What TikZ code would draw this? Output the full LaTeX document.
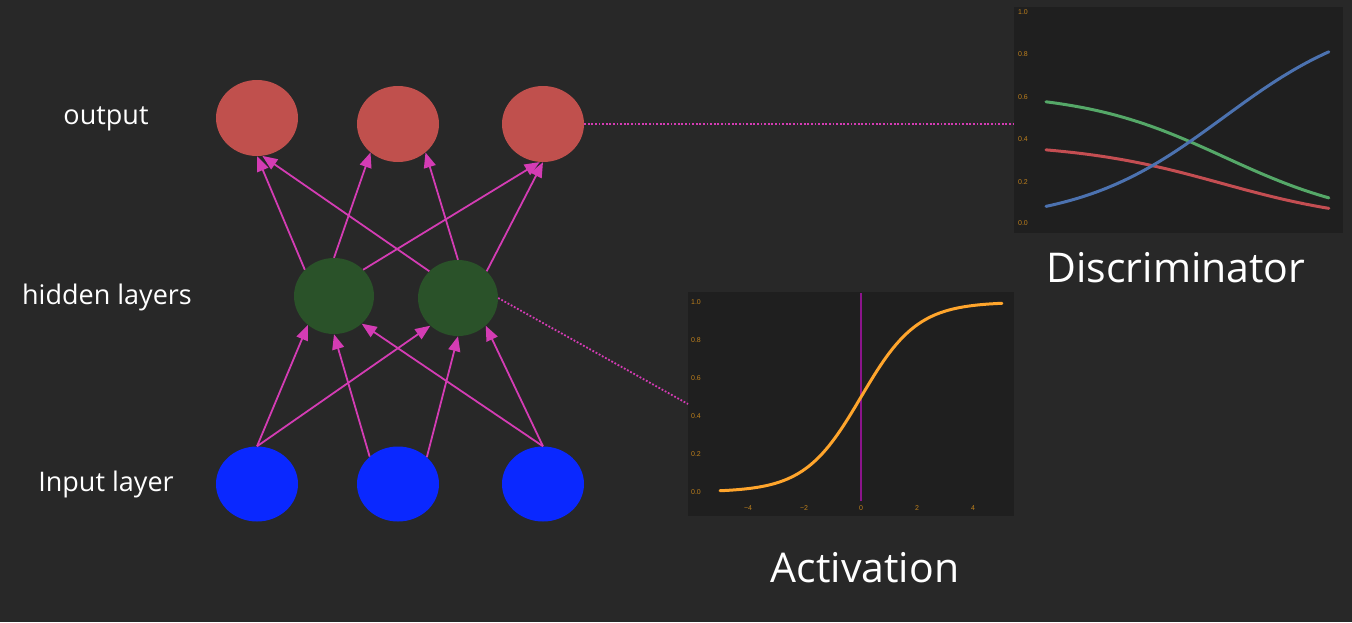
\documentclass[tikz,border=0pt]{standalone}
\usepackage{fontspec}
\setmainfont{Open Sans}
\newfontfamily\tickfont{Liberation Sans}
\usetikzlibrary{shapes.geometric,arrows.meta}
\definecolor{bg}{RGB}{40,40,40}
\definecolor{panel}{RGB}{31,31,31}
\definecolor{outc}{RGB}{192,80,77}
\definecolor{hidc}{RGB}{42,82,41}
\definecolor{inc}{RGB}{10,40,255}
\definecolor{link}{RGB}{212,60,180}
\definecolor{tick}{RGB}{190,128,28}
\definecolor{sbblue}{RGB}{76,114,176}
\definecolor{sbgreen}{RGB}{85,168,104}
\definecolor{sbred}{RGB}{196,78,82}
\definecolor{sigc}{RGB}{255,165,44}
\definecolor{vline}{RGB}{140,20,140}
\tikzset{
  neuron/.style={ellipse, minimum width=82pt, minimum height=76pt, inner sep=0pt},
  outn/.style={neuron, fill=outc},
  hidn/.style={neuron, fill=hidc, minimum width=80pt},
  inn/.style={neuron, fill=inc, minimum height=75pt},
  conn/.style={draw=link, line width=1.8pt, -{Triangle[length=15pt,width=12pt]}},
  dotl/.style={draw=link, line width=1.8pt, dash pattern=on 1.8pt off 1.8pt},
  lbl/.style={text=white, font=\fontsize{27}{30}\selectfont, anchor=base, inner sep=0pt},
  ttl/.style={text=white, font=\fontsize{41}{46}\selectfont, anchor=base, inner sep=0pt},
  tk/.style={text=tick, font=\fontsize{7}{8}\selectfont\tickfont, inner sep=0pt},
  panelbox/.style={fill=panel, draw=none}
}
\begin{document}
\begin{tikzpicture}[x=1pt,y=-1pt]
\useasboundingbox[fill=bg] (0,0) rectangle (1352,622);

% labels
\node[lbl] (lo) at (106,124) {output};
\node[lbl] (lh) at (107,304) {hidden layers};
\node[lbl] (li) at (106,491) {Input layer};

% neurons
\node[outn] (O1) at (257,118) {};
\node[outn] (O2) at (398,124) {};
\node[outn] (O3) at (543,124) {};
\node[hidn] (H1) at (334,296) {};
\node[hidn] (H2) at (458,298) {};
\node[inn] (I1) at (257,484) {};
\node[inn] (I2) at (398,484) {};
\node[inn] (I3) at (543,484) {};

% input -> hidden
\draw[conn] (I1.north) -- (H1.-132);
\draw[conn] (I1.north) -- (H2.-135);
\draw[conn] (I2.136) -- (H1.south);
\draw[conn] (I2.43) -- (H2.south);
\draw[conn] (I3.north) -- (H1.-45);
\draw[conn] (I3.north) -- (H2.-45);
% hidden -> output
\draw[conn] (H1.138) -- (O1.south);
\draw[conn] (H1.north) -- (O2.-134);
\draw[conn] (H1.42) -- (O3.-95);
\draw[conn] (H2.137) -- (O1.-82);
\draw[conn] (H2.north) -- (O2.-46);
\draw[conn] (H2.43) -- (O3.south);

% discriminator panel
\node[panelbox, minimum width=329pt, minimum height=226pt, inner sep=0pt] (D) at (1178.5,120) {};
\node[tk] (d10) at (1023,12) {1.0};
\node[tk] (d08) at (1023,54) {0.8};
\node[tk] (d06) at (1023,97) {0.6};
\node[tk] (d04) at (1023,139) {0.4};
\node[tk] (d02) at (1023,182) {0.2};
\node[tk] (d00) at (1023,223) {0.0};
\draw[sbgreen, line width=3pt, line cap=round] plot[domain=0:1,samples=80,smooth]
 ({1046+283*\x},{223-211*exp(-0.545-1.575*\x)/(exp(-2.53+2.33*\x)+exp(-0.545-1.575*\x)+exp(-1.05-1.61*\x))});
\draw[sbred, line width=3pt, line cap=round] plot[domain=0:1,samples=80,smooth]
 ({1046+283*\x},{223-211*exp(-1.05-1.61*\x)/(exp(-2.53+2.33*\x)+exp(-0.545-1.575*\x)+exp(-1.05-1.61*\x))});
\draw[sbblue, line width=3pt, line cap=round] plot[domain=0:1,samples=80,smooth]
 ({1046+283*\x},{223-211*exp(-2.53+2.33*\x)/(exp(-2.53+2.33*\x)+exp(-0.545-1.575*\x)+exp(-1.05-1.61*\x))});
\node[ttl] (dt) at (1176,282) {Discriminator};

% activation panel
\node[panelbox, minimum width=326pt, minimum height=224pt, inner sep=0pt] (A) at (851,404) {};
\node[tk] (a10) at (696,302) {1.0};
\node[tk] (a08) at (696,340) {0.8};
\node[tk] (a06) at (696,378) {0.6};
\node[tk] (a04) at (696,416) {0.4};
\node[tk] (a02) at (696,454) {0.2};
\node[tk] (a00) at (696,492) {0.0};
\node[tk] (xm4) at (748,508) {−4};
\node[tk] (xm2) at (804,508) {−2};
\node[tk] (x0) at (861,508) {0};
\node[tk] (x2) at (917,508) {2};
\node[tk] (x4) at (973,508) {4};
\coordinate (vt) at (861,293);
\coordinate (vb) at (861,501);
\draw[vline, line width=1.8pt] (vt) -- (vb);
\draw[sigc, line width=3pt, line cap=round] plot[domain=-5:5,samples=100,smooth]
 ({861+28.2*\x},{492-190/(1+exp(-\x))});
\node[ttl] (at) at (865,582) {Activation};

% dotted links
\draw[dotl] (O3.east) -- (D.west |- O3.east);
\coordinate (ae) at (688,404);
\draw[dotl] (H2.east) -- (ae);
\end{tikzpicture}
\end{document}
